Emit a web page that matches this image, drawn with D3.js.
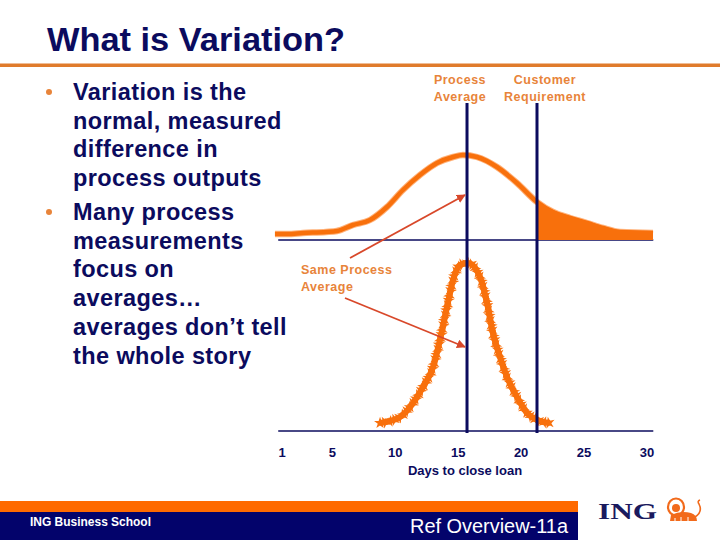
<!DOCTYPE html>
<html><head><meta charset="utf-8">
<script src="https://cdn.jsdelivr.net/npm/d3@7"></script>
<style>html,body{margin:0;padding:0;background:#fff;}svg{display:block;}</style>
</head><body>
<svg id="c" width="720" height="540"></svg>
<script>
// ---- data ----
const titleText = "What is Variation?";
const bullets = [
  ["Variation is the", "normal, measured", "difference in", "process outputs"],
  ["Many process", "measurements", "focus on", "averages\u2026", "averages don\u2019t tell", "the whole story"]
];
const tickValues = [1, 5, 10, 15, 20, 25, 30];
const axisTitle = "Days to close loan";
// wide process (top panel): days and relative frequency
const wideDays = [0.44, 1.4, 2.67, 4.5, 5.37, 6.64, 7.99, 9.34, 10.61, 11.96, 13.32, 14.59, 15.38, 16.49, 18.08, 19.67, 21.26, 22.53, 23.88, 25.23, 26.5, 27.85, 30.48];
const wideFreq = [0.6, 0.6, 0.7, 0.8, 0.9, 1.5, 2.0, 3.3, 5.0, 6.5, 7.7, 8.3, 8.5, 8.3, 7.3, 5.7, 3.8, 2.8, 2.2, 1.7, 1.2, 0.8, 0.7];
// narrow process (bottom panel)
const narrowDays = [8.79, 10.38, 11.41, 12.2, 13.0, 13.55, 14.11, 14.59, 15.14, 15.78, 16.73, 17.29, 17.76, 18.32, 18.88, 19.67, 20.47, 21.26, 22.29];
const narrowFreq = [0.8, 1.4, 2.8, 4.4, 6.4, 9.1, 12.4, 15.1, 16.6, 16.8, 15.4, 12.8, 9.8, 7.4, 5.4, 3.4, 1.8, 1.1, 0.8];
const processAverage = 15.7;
const customerRequirement = 21.26;
const labelProcess = ["Process", "Average"];
const labelCustomer = ["Customer", "Requirement"];
const labelSame = ["Same Process", "Average"];
const footerLeft = "ING Business School";
const footerRight = "Ref Overview-11a";
const logoText = "ING";

// ---- styles ----
const NAVY = "#0b0b5e", ORANGE = "#f8700c", LABEL = "#e8843a", ARROW = "#d8482a";
const svg = d3.select("#c");
const F = "'Liberation Sans', Arial, sans-serif";

// title
svg.append("text").attr("x", 47).attr("y", 51).text(titleText)
  .attr("font-family", F).attr("font-weight", "bold").attr("font-size", 33)
  .attr("fill", NAVY).attr("textLength", 298).attr("lengthAdjust", "spacingAndGlyphs");
svg.append("rect").attr("x", 0).attr("y", 63.5).attr("width", 720).attr("height", 3.5).attr("fill", "#e07b2c");

// bullets
const baseY = [100, 220];
bullets.forEach((lines, bi) => {
  svg.append("circle").attr("cx", 49).attr("cy", baseY[bi] - 8).attr("r", 3).attr("fill", "#e8843a");
  lines.forEach((t, li) => {
    svg.append("text").attr("x", 73).attr("y", baseY[bi] + li * 28.7).text(t)
      .attr("font-family", F).attr("font-weight", "bold").attr("font-size", 23.5)
      .attr("fill", NAVY).attr("letter-spacing", 0.4);
  });
});

// scales
const x = d3.scaleLinear().domain([1, 30]).range([282, 647]);
const yTop = d3.scaleLinear().domain([0, 10]).range([240, 140]);
const yBot = d3.scaleLinear().domain([0, 20]).range([431, 231]);
const xMin = 0.7, xMax = 30.5;

// baselines
[yTop(0), yBot(0)].forEach(yy => {
  svg.append("line").attr("x1", x(xMin)).attr("x2", x(xMax)).attr("y1", yy).attr("y2", yy)
    .attr("stroke", NAVY).attr("stroke-width", 1.5);
});

// wide curve
const wide = wideDays.map((d, i) => ({d, f: wideFreq[i]}));
const lineTop = d3.line().x(p => x(p.d)).y(p => yTop(p.f)).curve(d3.curveMonotoneX);
const areaTop = d3.area().x(p => x(p.d)).y0(yTop(0)).y1(p => yTop(p.f) - 2).curve(d3.curveMonotoneX);
svg.append("path").attr("d", lineTop(wide)).attr("fill", "none").attr("stroke", "#ffb27a").attr("stroke-width", 6.5);
svg.append("path").attr("d", lineTop(wide)).attr("fill", "none").attr("stroke", ORANGE).attr("stroke-width", 4.5);
svg.append("clipPath").attr("id", "tail").append("rect")
  .attr("x", x(customerRequirement)).attr("y", 100).attr("width", x(xMax) - x(customerRequirement)).attr("height", yTop(0) - 100);
svg.append("path").attr("d", areaTop(wide)).attr("fill", ORANGE).attr("clip-path", "url(#tail)");

// narrow curve
const narrow = narrowDays.map((d, i) => ({d, f: narrowFreq[i]}));
const lineBot = d3.line().x(p => x(p.d)).y(p => yBot(p.f)).curve(d3.curveMonotoneX);
const pb = svg.append("path").attr("d", lineBot(narrow)).attr("fill", "none")
  .attr("stroke", ORANGE).attr("stroke-width", 6);
const L = pb.node().getTotalLength();
const star = d3.symbol().type(d3.symbolStar).size(45);
for (let s = 0; s <= L; s += 5) {
  const p = pb.node().getPointAtLength(s);
  svg.append("path").attr("d", star()).attr("fill", ORANGE)
    .attr("transform", `translate(${p.x},${p.y}) rotate(${(s * 37) % 72})`);
}

// vertical lines
[processAverage, customerRequirement].forEach(v => {
  svg.append("line").attr("x1", x(v)).attr("x2", x(v)).attr("y1", 103).attr("y2", yBot(0) + 2)
    .attr("stroke", NAVY).attr("stroke-width", 3);
});

// labels
function label(lines, cx, y0, anchor) {
  lines.forEach((t, i) => svg.append("text").attr("x", cx).attr("y", y0 + i * 17).text(t)
    .attr("text-anchor", anchor).attr("font-family", F).attr("font-weight", "bold")
    .attr("font-size", 12.5).attr("letter-spacing", 0.5).attr("fill", LABEL));
}
label(labelProcess, 460, 84, "middle");
label(labelCustomer, 545, 84, "middle");
label(labelSame, 301, 274, "start");

// arrows
svg.append("defs").append("marker").attr("id", "ah").attr("viewBox", "0 0 10 10")
  .attr("refX", 9).attr("refY", 5).attr("markerWidth", 5).attr("markerHeight", 5)
  .attr("orient", "auto").append("path").attr("d", "M0,0L10,5L0,10Z").attr("fill", ARROW);
svg.append("line").attr("x1", 350).attr("y1", 258).attr("x2", x(processAverage) - 2).attr("y2", yTop(4.5))
  .attr("stroke", ARROW).attr("stroke-width", 1.8).attr("marker-end", "url(#ah)");
svg.append("line").attr("x1", 345).attr("y1", 298).attr("x2", x(processAverage) - 2).attr("y2", yBot(8.4))
  .attr("stroke", ARROW).attr("stroke-width", 1.8).attr("marker-end", "url(#ah)");

// tick labels
tickValues.forEach(v => svg.append("text").attr("x", x(v)).attr("y", 457).text(v)
  .attr("text-anchor", "middle").attr("font-family", F).attr("font-weight", "bold")
  .attr("font-size", 13).attr("fill", NAVY));
svg.append("text").attr("x", 465).attr("y", 475).text(axisTitle).attr("text-anchor", "middle")
  .attr("font-family", F).attr("font-weight", "bold").attr("font-size", 13).attr("fill", NAVY);

// footer
svg.append("rect").attr("x", 0).attr("y", 501).attr("width", 578).attr("height", 11).attr("fill", "#ff6a00");
svg.append("rect").attr("x", 0).attr("y", 512).attr("width", 578).attr("height", 28).attr("fill", "#03036b");
svg.append("text").attr("x", 30).attr("y", 526).text(footerLeft).attr("font-family", F)
  .attr("font-weight", "bold").attr("font-size", 12).attr("fill", "#fff")
  .attr("textLength", 121).attr("lengthAdjust", "spacingAndGlyphs");
svg.append("text").attr("x", 410).attr("y", 533).text(footerRight).attr("font-family", F)
  .attr("font-size", 20).attr("fill", "#fff").attr("textLength", 158).attr("lengthAdjust", "spacingAndGlyphs");

// logo
svg.append("text").attr("x", 598).attr("y", 519).text(logoText)
  .attr("font-family", "'Liberation Serif', 'Times New Roman', serif").attr("font-weight", "bold")
  .attr("font-size", 23).attr("fill", "#1a1a5e").attr("textLength", 59).attr("lengthAdjust", "spacingAndGlyphs");
const lion = svg.append("g").attr("transform", "translate(667,498)").attr("fill", "#f26a1b").attr("stroke", "#f26a1b");
lion.append("ellipse").attr("cx", 9).attr("cy", 9).attr("rx", 8).attr("ry", 8.5).attr("fill", "#fff").attr("stroke-width", 2.2);
lion.append("circle").attr("cx", 9).attr("cy", 10).attr("r", 4).attr("stroke", "none");
lion.append("path").attr("d", "M4,17 Q14,12 24,15 Q30,17 30,23 L3,23 Z").attr("stroke", "none");
lion.append("path").attr("d", "M28,19 Q36,14 32,6 Q30,3 33,2").attr("fill", "none").attr("stroke-width", 1.6);
lion.append("path").attr("d", "M8,20 L8,23 M14,19 L14,23 M21,19 L21,23").attr("stroke", "#fff").attr("stroke-width", 1);
</script>
</body></html>
